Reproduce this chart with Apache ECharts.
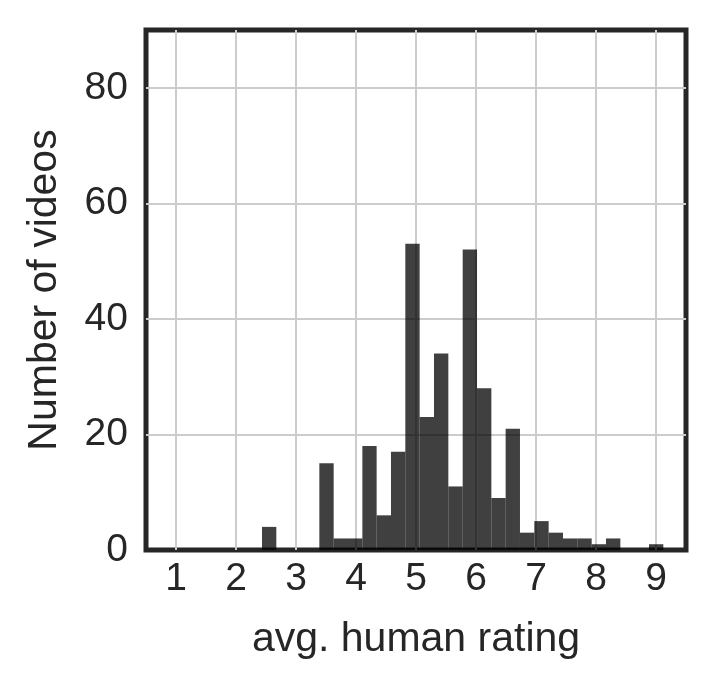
<!DOCTYPE html>
<html>
<head>
<meta charset="utf-8">
<script src="https://cdn.jsdelivr.net/npm/echarts@6/dist/echarts.min.js"></script>
<style>
    html, body { margin: 0; padding: 0; background: #fff; }
    #chart { width: 716px; height: 687px; }
</style>
</head>
<body>
<div id="chart"></div>
<script>
// histogram bins (left edge, right edge) and counts
const binStart = [1.000, 1.239, 1.478, 1.717, 1.956, 2.194, 2.433, 2.672, 2.911, 3.150,
    3.389, 3.628, 3.867, 4.106, 4.344, 4.583, 4.822, 5.061, 5.300, 5.539,
    5.778, 6.017, 6.256, 6.494, 6.733, 6.972, 7.211, 7.450, 7.689, 7.928,
    8.167, 8.406, 8.644, 8.883]
const binEnd = [1.239, 1.478, 1.717, 1.956, 2.194, 2.433, 2.672, 2.911, 3.150, 3.389,
    3.628, 3.867, 4.106, 4.344, 4.583, 4.822, 5.061, 5.300, 5.539, 5.778,
    6.017, 6.256, 6.494, 6.733, 6.972, 7.211, 7.450, 7.689, 7.928, 8.167,
    8.406, 8.644, 8.883, 9.122]
const counts = [0, 0, 0, 0, 0, 0, 4, 0, 0, 0,
    15, 2, 2, 18, 6, 17, 53, 23, 34, 11,
    52, 28, 9, 21, 3, 5, 3, 2, 2, 1,
    2, 0, 0, 1]

const xTicks = [1, 2, 3, 4, 5, 6, 7, 8, 9]
const yTicks = [0, 20, 40, 60, 80]
const yGridLines = [20, 40, 60, 80]   // 0 sits on the frame

const font = "'Liberation Sans', Arial, sans-serif"
const textColor = '#262626'

const data = binStart.map((s, i) => [s, binEnd[i], counts[i]])

const chart = echarts.init(document.getElementById('chart'))
chart.setOption({
    backgroundColor: '#fff',
    animation: false,
    grid: {
        left: 146, right: 30, top: 30, bottom: 137,
        show: true,
        borderColor: '#262626',
        borderWidth: 5,
        backgroundColor: '#fff'
    },
    xAxis: {
        type: 'value',
        min: 0.5,
        max: 9.5,
        name: 'avg. human rating',
        nameLocation: 'middle',
        nameGap: 69,
        nameTextStyle: { fontFamily: font, fontSize: 41, color: textColor },
        axisLine: { show: false },
        axisTick: { show: false, customValues: xTicks },
        axisLabel: {
            customValues: xTicks,
            margin: 10,
            fontFamily: font, fontSize: 39, color: textColor
        },
        splitLine: { show: true, lineStyle: { color: '#cccccc', width: 2 } }
    },
    yAxis: {
        type: 'value',
        min: 0,
        max: 90,
        name: 'Number of videos',
        nameLocation: 'middle',
        nameGap: 81,
        nameTextStyle: { fontFamily: font, fontSize: 41, color: textColor },
        axisLine: { show: false },
        axisTick: { show: false, customValues: yGridLines },
        axisLabel: {
            customValues: yTicks,
            margin: 18,
            fontFamily: font, fontSize: 39, color: textColor
        },
        splitLine: { show: true, lineStyle: { color: '#cccccc', width: 2 } }
    },
    series: [{
        type: 'custom',
        data: data,
        encode: { x: [0, 1], y: 2 },
        renderItem: function (params, api) {
            const h = api.value(2)
            if (!h) return null
            const p0 = api.coord([api.value(0), h])
            const p1 = api.coord([api.value(1), 0])
            return {
                type: 'rect',
                shape: { x: p0[0], y: p0[1], width: p1[0] - p0[0], height: p1[1] - p0[1] },
                style: { fill: 'rgba(0,0,0,0.75)' }
            }
        }
    }]
})
</script>
</body>
</html>
